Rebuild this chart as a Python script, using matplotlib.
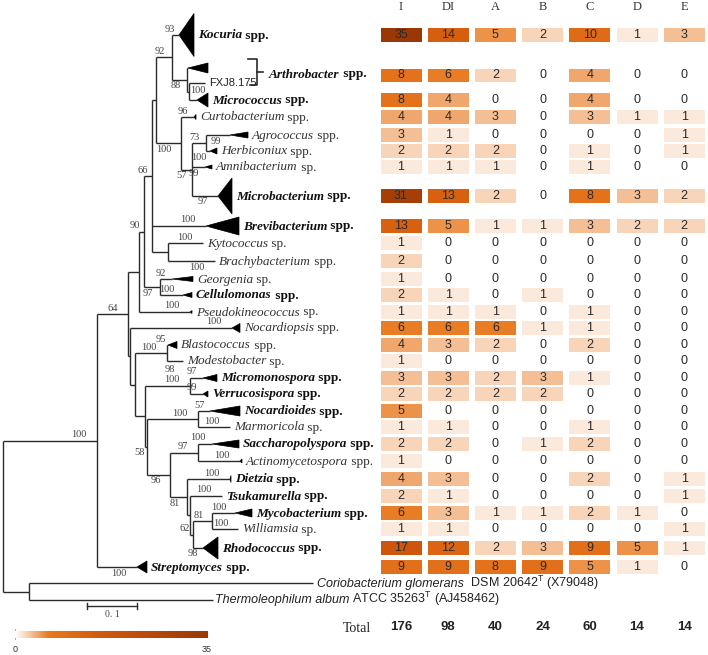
import matplotlib
matplotlib.use("Agg")
import matplotlib.pyplot as plt
import matplotlib.colors as mcolors
from matplotlib.patches import Polygon, Rectangle
import numpy as np

plt.rcParams['mathtext.fontset'] = 'custom'
plt.rcParams['mathtext.rm'] = 'Liberation Sans'

# ---------------- data ----------------
columns = ["I", "DI", "A", "B", "C", "D", "E"]
rows = ["Kocuria", "Arthrobacter", "Micrococcus", "Curtobacterium", "Agrococcus",
        "Herbiconiux", "Amnibacterium", "Microbacterium", "Brevibacterium", "Kytococcus",
        "Brachybacterium", "Georgenia", "Cellulomonas", "Pseudokineococcus", "Nocardiopsis",
        "Blastococcus", "Modestobacter", "Micromonospora", "Verrucosispora", "Nocardioides",
        "Marmoricola", "Saccharopolyspora", "Actinomycetospora", "Dietzia", "Tsukamurella",
        "Mycobacterium", "Williamsia", "Rhodococcus", "Streptomyces"]
col_I  = [35, 8, 8, 4, 3, 2, 1, 31, 13, 1, 2, 1, 2, 1, 6, 4, 1, 3, 2, 5, 1, 2, 1, 4, 2, 6, 1, 17, 9]
col_DI = [14, 6, 4, 4, 1, 2, 1, 13, 5, 0, 0, 0, 1, 1, 6, 3, 0, 3, 2, 0, 1, 2, 0, 3, 1, 3, 1, 12, 9]
col_A  = [5, 2, 0, 3, 0, 2, 1, 2, 1, 0, 0, 0, 0, 1, 6, 2, 0, 2, 2, 0, 0, 0, 0, 0, 0, 1, 0, 2, 8]
col_B  = [2, 0, 0, 0, 0, 0, 0, 0, 1, 0, 0, 0, 1, 0, 1, 0, 0, 3, 2, 0, 0, 1, 0, 0, 0, 1, 0, 3, 9]
col_C  = [10, 4, 4, 3, 0, 1, 1, 8, 3, 0, 0, 0, 0, 1, 1, 2, 0, 1, 0, 0, 1, 2, 0, 2, 0, 2, 0, 9, 5]
col_D  = [1, 0, 0, 1, 0, 0, 0, 3, 2, 0, 0, 0, 0, 0, 0, 0, 0, 0, 0, 0, 0, 0, 0, 0, 0, 1, 0, 5, 1]
col_E  = [3, 0, 0, 1, 1, 1, 0, 2, 2, 0, 0, 0, 0, 0, 0, 0, 0, 0, 0, 0, 0, 0, 0, 1, 1, 0, 1, 1, 0]
totals = [176, 98, 40, 24, 60, 14, 14]
counts = [col_I, col_DI, col_A, col_B, col_C, col_D, col_E]


# tree nodes: (name, branch length in subs/site, bootstrap, children)
def N(name, bl, bs, *kids):
    return (name, bl, bs, list(kids))


def L(name, bl, bs):
    return (name, bl, bs, None)


micrococcaceae = N("n92", 0.032, 92,
                   L("Kocuria", 0.014, 93),
                   N("n88", 0.030, 88,
                     L("Arthrobacter", 0.002, None),
                     N("n_fx", 0.004, 100,
                       L("FXJ8.175", 0.032, None),
                       L("Micrococcus", 0.016, None))))
microbacteriaceae = N("n_p3", 0.050, 100,
                      L("Curtobacterium", 0.026, 96),
                      N("n57", 0.022, 57,
                        N("n73", 0.028, 73,
                          L("Agrococcus", 0.048, 99),
                          L("Herbiconiux", 0.008, 100)),
                        L("Amnibacterium", 0.026, 99),
                        L("Microbacterium", 0.052, 97)))
n_p1 = N("n_p1", 0.008, None, micrococcaceae, microbacteriaceae)
n66 = N("n66", 0.016, 66, n_p1,
        L("Brevibacterium", 0.108, 100),
        N("n_kb", 0.032, None,
          L("Kytococcus", 0.070, 100),
          L("Brachybacterium", 0.094, 100)))
n90 = N("n90", 0.010, 90, n66,
        N("n97", 0.032, 97,
          L("Georgenia", 0.024, 92),
          L("Cellulomonas", 0.046, 100)))
n_s = N("n_s", 0.022, None, n90, L("Pseudokineococcus", 0.102, 100))
corynebacteriales = N("n81", 0.034, 81,
                      L("Dietzia", 0.086, 100),
                      N("n_z2", 0.006, None,
                        L("Tsukamurella", 0.064, 100),
                        N("n62", 0.006, 62,
                          N("n_mw", 0.038, 81,
                            L("Mycobacterium", 0.046, 100),
                            L("Williamsia", 0.052, 100)),
                          L("Rhodococcus", 0.020, 98))))
n96 = N("n96", 0.046, 96,
        N("n_sa", 0.056, 97,
          L("Saccharopolyspora", 0.028, 100),
          L("Actinomycetospora", 0.084, 100)),
        corynebacteriales)
n58 = N("n58", 0.004, 58,
        N("n_nm", 0.102, 100,
          L("Nocardioides", 0.024, 57),
          L("Marmoricola", 0.064, 100)),
        n96)
n_w = N("n_w", 0.020, None,
        N("n_mv", 0.090, 100,
          L("Micromonospora", 0.026, 97),
          L("Verrucosispora", 0.026, 99)),
        n58)
n_u = N("n_u", 0.010, None,
        N("n_bm", 0.064, 100,
          L("Blastococcus", 0.002, 95),
          L("Modestobacter", 0.032, None)),
        n_w)
n_t2 = N("n_t2", 0.004, None, L("Nocardiopsis", 0.204, 100), n_u)
n64 = N("n64", 0.062, 64, n_s, n_t2)
ingroup = N("n_in", 0.188, 100, n64, L("Streptomyces", 0.080, 100))
outgroup = N("n_og", 0.052, None,
             L("Coriobacterium", 0.568, None),
             L("Thermoleophilum", 0.368, None))
tree = N("root", 0.0, None, ingroup, outgroup)

extra_support = {"n_mv": 98}   # second support value shown at this node

bold_taxa = {"Kocuria", "Arthrobacter", "Micrococcus", "Microbacterium", "Brevibacterium",
             "Cellulomonas", "Micromonospora", "Verrucosispora", "Nocardioides",
             "Saccharopolyspora", "Dietzia", "Tsukamurella", "Mycobacterium",
             "Rhodococcus", "Streptomyces"}
single_sp = {"Amnibacterium", "Kytococcus", "Georgenia", "Pseudokineococcus",
             "Modestobacter", "Marmoricola", "Williamsia"}
outgroup_labels = {"Coriobacterium": ("Coriobacterium glomerans", r"  DSM 20642$^{\mathrm{T}}$ (X79048)"),
                   "Thermoleophilum": ("Thermoleophilum album", r" ATCC 35263$^{\mathrm{T}}$ (AJ458462)")}

# ---------------- layout / style ----------------
PX = 500.0        # pixels per substitution/site
X0 = 3
leaf_top = 35
leaf_gap = [33, 15, 17, 17, 18, 16, 16, 29, 30, 17, 18, 18, 16, 17, 16, 17, 16, 17, 16, 17,
            16, 17, 17, 18, 17, 17, 16, 19, 19, 16, 17]
# collapsed clades: (depth in subs/site, half height px)
clades = {"Kocuria": (0.030, 21.5), "Arthrobacter": (0.040, 5), "Micrococcus": (0.022, 7),
          "Curtobacterium": (0.004, 2.5), "Agrococcus": (0.036, 3), "Herbiconiux": (0.014, 3),
          "Amnibacterium": (0.014, 2), "Microbacterium": (0.028, 18),
          "Brevibacterium": (0.066, 9), "Georgenia": (0.042, 2.5), "Cellulomonas": (0.018, 2.5),
          "Pseudokineococcus": (0.004, 1.5), "Nocardiopsis": (0.016, 4.5),
          "Blastococcus": (0.018, 3.5), "Micromonospora": (0.028, 3.5),
          "Verrucosispora": (0.010, 3), "Nocardioides": (0.060, 5),
          "Saccharopolyspora": (0.054, 4), "Actinomycetospora": (0.004, 2),
          "Dietzia": (0.002, 3.5), "Mycobacterium": (0.034, 4), "Rhodococcus": (0.030, 11),
          "Streptomyces": (0.020, 6)}
below = {"n_p3", "n88", "n57", "Agrococcus", "Herbiconiux", "Amnibacterium",
         "Microbacterium", "Brachybacterium", "n97", "n58", "n96", "n81", "Rhodococcus",
         "Streptomyces"}
right_of_node = {"n_fx"}

LINE = '#2b2b2b'
SERIF = 'Liberation Serif'
SANS = 'Liberation Sans'
COL_X0, COL_DX = 401, 47.2
CELL_W, CELL_H = 41, 13.5

cmap = mcolors.LinearSegmentedColormap.from_list(
    "or", [(0, '#ffffff'), (0.175, '#e8781e'), (0.45, '#d2580c'), (1, '#9a3805')])
norm = mcolors.Normalize(0, 35)

# ---------------- figure ----------------
fig = plt.figure(figsize=(7.08, 6.55), dpi=100)
ax = fig.add_axes([0, 0, 1, 1])
ax.set_xlim(0, 708)
ax.set_ylim(655, 0)
ax.axis('off')
renderer = fig.canvas.get_renderer()


def two_part(x, y, first, second, first_kw, second_kw):
    # draw two text pieces on a shared baseline
    t = ax.text(x, y, first, va='baseline', ha='left', **first_kw)
    bb = t.get_window_extent(renderer)
    x_end = ax.transData.inverted().transform((bb.x1, bb.y0))[0]
    ax.text(x_end, y, second, va='baseline', ha='left', **second_kw)


def leaves(node):
    if node[3] is None:
        return [node[0]]
    return [l for k in node[3] for l in leaves(k)]


order = leaves(tree)
leaf_y = dict(zip(order, np.cumsum([leaf_top] + leaf_gap)))

pos = {}


def place(node, xp):
    name, bl, bs, kids = node
    x = xp + bl * PX
    if kids is None:
        y = leaf_y[name]
    else:
        ys = [place(k, x) for k in kids]
        y = (ys[0] + ys[-1]) / 2
        ax.plot([x, x], [ys[0], ys[-1]], color=LINE, lw=1.0, solid_capstyle='butt')
    pos[name] = (x, y)
    if bl > 0:
        ax.plot([xp, x], [y, y], color=LINE, lw=1.0, solid_capstyle='butt')
    if bs is not None:
        if name in right_of_node:
            ax.text(x + 1.5, y - 1, str(bs), ha='left', va='center',
                    fontsize=7.5, family=SERIF, color='#444444')
        else:
            off = min(2 + 0.3 * bl * PX, 10)
            dy = 1.5 if name in below else -1.5
            ax.text(x - off, y + dy, str(bs), ha='right',
                    va='top' if name in below else 'bottom',
                    fontsize=7.5, family=SERIF, color='#444444')
    if name in extra_support:
        ax.text(x - 15, y - 12, str(extra_support[name]), ha='right', va='bottom',
                fontsize=7.5, family=SERIF, color='#444444')
    return y


place(tree, X0)

# leaf tips, clade triangles and labels
for name in order:
    x, y = pos[name]
    if name in clades:
        depth, half = clades[name]
        x2 = x + depth * PX
        ax.add_patch(Polygon([(x, y), (x2, y - half), (x2, y + half)], closed=True,
                             facecolor='black', edgecolor='black', lw=0.5))
        x = x2
    lx = x + 4
    if name == "Arthrobacter":
        continue
    if name == "FXJ8.175":
        ax.text(lx, y, name, fontsize=8, family=SANS, va='center', ha='left', color='#222')
        continue
    if name in outgroup_labels:
        first, second = outgroup_labels[name]
        if name == "Thermoleophilum":
            lx -= 2
        two_part(lx, y + 3.5, first, second,
                 dict(fontsize=9, family=SANS, style='italic', color='#222'),
                 dict(fontsize=9, family=SANS, color='#222'))
        continue
    bold = name in bold_taxa
    suffix = " sp." if name in single_sp else " spp."
    w = 'bold' if bold else 'normal'
    c = '#111' if bold else '#333'
    two_part(lx, y + 3.5, name, suffix,
             dict(fontsize=9.5, family=SERIF, style='italic', weight=w, color=c),
             dict(fontsize=9.5, family=SERIF, weight=w, color=c))

# Arthrobacter bracket
ya, yf = leaf_y["Arthrobacter"], leaf_y["FXJ8.175"]
bx = 257
ax.plot([bx - 9, bx, bx, bx - 7], [ya - 9, ya - 9, yf + 2, yf + 2], color=LINE, lw=1.2)
ym = (ya - 9 + yf + 2) / 2
ax.plot([bx, bx + 6], [ym, ym], color=LINE, lw=1.2)
two_part(bx + 12, ym + 5.5, "Arthrobacter", " spp.",
         dict(fontsize=9.5, family=SERIF, style='italic', weight='bold', color='#111'),
         dict(fontsize=9.5, family=SERIF, weight='bold', color='#111'))

# heatmap
row_y = [leaf_y[r] if r != "Arthrobacter" else (ya + yf) / 2 for r in rows]
for j, col in enumerate(columns):
    cx = COL_X0 + j * COL_DX
    ax.text(cx, 7, col, ha='center', va='center', fontsize=9, family=SERIF, color='#333')
    for i, v in enumerate(counts[j]):
        y = row_y[i]
        if v > 0:
            ax.add_patch(Rectangle((cx - CELL_W / 2, y - CELL_H / 2), CELL_W, CELL_H,
                                   facecolor=cmap(norm(v)), edgecolor='none'))
        ax.text(cx, y, str(v), ha='center', va='center', fontsize=9, family=SANS,
                color='#2a2a2a')
    ax.text(cx, 627, str(totals[j]), ha='center', va='center', fontsize=9.5, family=SANS,
            weight='bold', color='#222')
ax.text(357, 628, "Total", ha='center', va='center', fontsize=10, family=SERIF, color='#222')

# scale bar
sx, sy = 87, 606
ax.plot([sx, sx + 0.1 * PX], [sy, sy], color=LINE, lw=1.0)
ax.plot([sx, sx], [sy - 3, sy + 3], color=LINE, lw=1.0)
ax.plot([sx + 0.1 * PX, sx + 0.1 * PX], [sy - 3, sy + 3], color=LINE, lw=1.0)
ax.text(sx + 0.05 * PX, sy + 4, "0. 1", ha='center', va='top', fontsize=7, family=SERIF,
        color='#444')

# colorbar
cax = fig.add_axes([15 / 708, 1 - 637.5 / 655, 193 / 708, 6.5 / 655])
cb = fig.colorbar(plt.cm.ScalarMappable(norm=norm, cmap=cmap), cax=cax,
                  orientation='horizontal')
cb.set_ticks([])
cb.outline.set_visible(False)
ax.plot([15, 15], [629, 639], color='#999', lw=0.6)
ax.text(15, 649, "0", ha='center', va='center', fontsize=6.5, family=SANS, color='#333')
ax.text(207, 649, "35", ha='center', va='center', fontsize=6.5, family=SANS, color='#333')

fig.savefig("out.png", dpi=100)
